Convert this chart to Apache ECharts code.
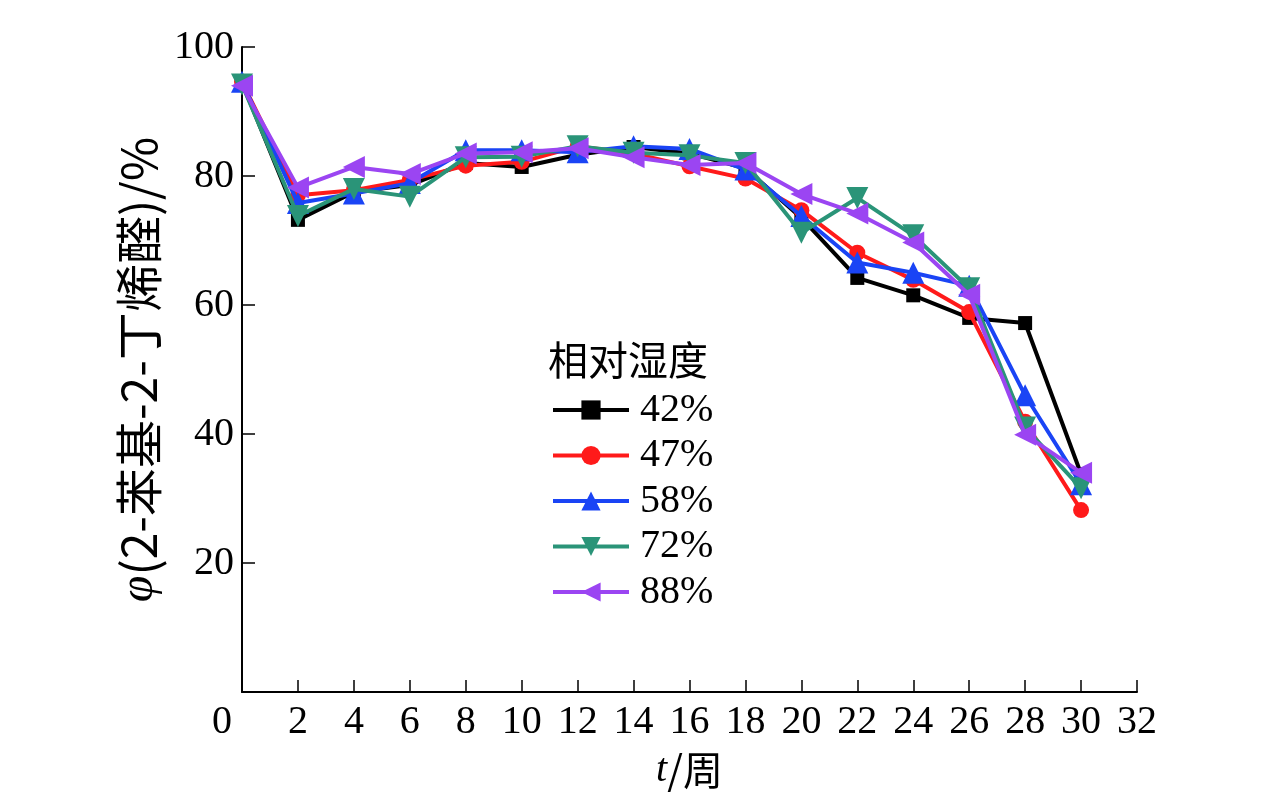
<!DOCTYPE html>
<html>
<head>
<meta charset="utf-8">
<script src="https://cdn.jsdelivr.net/npm/echarts@6/dist/echarts.min.js"></script>
<style>
html,body{margin:0;padding:0;background:#fff;}
#c{width:1276px;height:802px;}
</style>
</head>
<body>
<div id="c"></div>
<script>
var weeks = [0,2,4,6,8,10,12,14,16,18,20,22,24,26,28,30];
var rh42 = [94.5, 73.2, 77.5, 78.6, 82.0, 81.4, 83.3, 84.5, 83.5, 81.2, 73.5, 64.2, 61.5, 58.0, 57.2, 33.8];
var rh47 = [94.6, 77.0, 77.8, 79.4, 81.6, 82.2, 84.6, 83.5, 81.5, 79.6, 74.7, 68.1, 63.9, 58.9, 41.9, 28.2];
var rh58 = [94.6, 75.8, 77.3, 78.9, 84.0, 84.0, 83.7, 84.6, 84.2, 81.0, 73.8, 66.6, 65.0, 63.0, 46.0, 32.2];
var rh72 = [94.2, 73.8, 78.0, 76.8, 82.9, 83.0, 84.6, 83.6, 83.2, 82.0, 71.2, 76.6, 70.8, 62.6, 41.0, 31.6];
var rh88 = [94.0, 78.2, 81.4, 80.3, 83.5, 83.7, 84.3, 82.9, 81.7, 82.0, 77.2, 74.2, 69.7, 61.6, 39.9, 34.0];
var seriesNames = ['42%','47%','58%','72%','88%'];
var legendTitle = '相对湿度';
var xName = '{i|t}/周';
var yName = '{i|φ}(2-苯基-2-丁烯醛)/%';

function pairs(vals){ return weeks.map(function(w,i){ return [w, vals[i]]; }); }

var colors = ['#000000','#ff1a1a','#1a44f5','#2a9478','#9b45f2'];
var symbols = ['rect','circle','triangle','path://M0,0 L10,0 L5,9 Z','path://M0,5 L9,0 L9,10 Z'];
var sizes = [14, 16, 22, 22, 22];
var allVals = [rh42, rh47, rh58, rh72, rh88];

var serif = '"Liberation Serif", "Times New Roman", serif';

var series = allVals.map(function(v, k){
  return {
    name: seriesNames[k],
    type: 'line',
    data: pairs(v),
    symbol: symbols[k],
    symbolSize: sizes[k],
    showAllSymbol: true,
    color: colors[k],
    lineStyle: {width: 4, color: colors[k]},
    itemStyle: {color: colors[k]},
    z: 2 + k
  };
});

var chart = echarts.init(document.getElementById('c'), null, {renderer:'canvas'});
chart.setOption({
  animation: false,
  backgroundColor: '#fff',
  title: {
    text: legendTitle,
    left: 548, top: 340,
    padding: 0,
    textStyle: {fontSize: 40, fontWeight: 'normal', color: '#000', fontFamily: '"Noto Sans CJK SC", sans-serif'}
  },
  legend: {
    orient: 'vertical',
    left: 551, top: 390,
    padding: 0,
    itemWidth: 76,
    itemHeight: 24,
    itemGap: 5.5,
    data: seriesNames,
    lineStyle: {width: 4},
    textStyle: {fontSize: 40, lineHeight: 40, color: '#000', fontFamily: serif, padding: [0,0,0,6]}
  },
  grid: {left: 242, right: 139, top: 47, bottom: 110, containLabel: false},
  xAxis: {
    type: 'value', min: 0, max: 32, interval: 2,
    name: xName, nameLocation: 'middle', nameGap: 58,
    nameTextStyle: {fontSize: 40, color: '#000', fontFamily: '"Noto Sans CJK SC", sans-serif',
      rich: {i: {fontStyle: 'italic', fontSize: 40, fontFamily: serif, color: '#000'}}},
    axisLine: {show: true, onZero: false, lineStyle: {color: '#000', width: 2}},
    axisTick: {show: true, inside: true, length: 12, lineStyle: {color: '#000', width: 1.5}},
    axisLabel: {
      fontSize: 40, color: '#000', fontFamily: serif, margin: 10,
      formatter: function(v){ return v === 0 ? '{z|0}' : String(v); },
      rich: {z: {fontSize: 40, fontFamily: serif, color: '#000', padding: [0, 40, 0, 0]}}
    },
    splitLine: {show: false}
  },
  yAxis: {
    type: 'value', min: 0, max: 100, interval: 20,
    name: yName, nameLocation: 'middle', nameGap: 70, nameRotate: 90,
    nameTextStyle: {fontSize: 48, color: '#000', fontFamily: '"Noto Sans CJK SC", sans-serif', padding: [0, 0, 0, 0],
      rich: {i: {fontStyle: 'italic', fontSize: 48, fontFamily: serif, color: '#000'}}},
    axisLine: {show: true, lineStyle: {color: '#000', width: 2}},
    axisTick: {show: true, inside: true, length: 13, lineStyle: {color: '#000', width: 1.5}},
    axisLabel: {
      fontSize: 40, color: '#000', fontFamily: serif, margin: 8,
      formatter: function(v){ return v === 0 ? '' : String(v); }
    },
    splitLine: {show: false}
  },
  series: series
});
</script>
</body>
</html>
